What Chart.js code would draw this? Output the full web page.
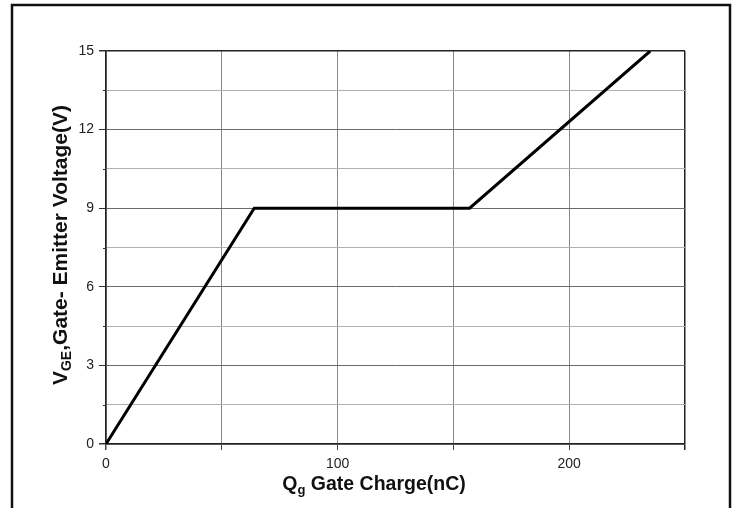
<!DOCTYPE html>
<html>
<head>
<meta charset="utf-8">
<script src="https://cdn.jsdelivr.net/npm/chart.js@4/dist/chart.umd.min.js"></script>
<style>
html,body{margin:0;padding:0;background:#fff;}
#wrap{width:736px;height:508px;position:relative;}
</style>
</head>
<body>
<div id="wrap"><canvas id="c" width="736" height="508"></canvas></div>
<script>
// Data
const gateCharge = [0, 64, 157, 235];     // nC
const gateVoltage = [0, 9, 9, 15];        // V
const xTickLabels = [0, 100, 200];
const yTickLabels = [0, 3, 6, 9, 12, 15];
const xTitleMain = ' Gate Charge(nC)';
const yTitleMain = ',Gate- Emitter Voltage(V)';

const FONT = '"Liberation Sans", Arial, sans-serif';

function richText(ctx, parts) {
  let w = 0;
  parts.forEach(p => { ctx.font = 'bold ' + p.size + 'px ' + FONT; w += ctx.measureText(p.t).width; });
  return w;
}
function drawRich(ctx, parts, x, y) {
  let cx = x;
  parts.forEach(p => {
    ctx.font = 'bold ' + p.size + 'px ' + FONT;
    ctx.fillText(p.t, cx, y + p.dy);
    cx += ctx.measureText(p.t).width;
  });
}

const decor = {
  id: 'decor',
  afterDraw(chart) {
    const ctx = chart.ctx;
    const a = chart.chartArea;
    const ys = chart.scales.y;
    ctx.save();
    // outer frame
    ctx.strokeStyle = '#111';
    ctx.lineWidth = 2.5;
    ctx.beginPath();
    ctx.moveTo(12, 520); ctx.lineTo(12, 5); ctx.lineTo(730, 5); ctx.lineTo(730, 520);
    ctx.stroke();
    // minor y ticks
    ctx.strokeStyle = '#333';
    ctx.lineWidth = 1;
    for (let v = 1.5; v < 15; v += 3) {
      const py = Math.round(ys.getPixelForValue(v)) + 0.5;
      ctx.beginPath(); ctx.moveTo(a.left - 3, py); ctx.lineTo(a.left, py); ctx.stroke();
    }
    ctx.fillStyle = '#111';
    ctx.textBaseline = 'alphabetic';
    // x title
    const xParts = [{t:'Q', size:19.5, dy:0}, {t:'g', size:13, dy:4}, {t:xTitleMain, size:19.5, dy:0}];
    const xw = richText(ctx, xParts);
    drawRich(ctx, xParts, 374 - xw / 2, 490);
    // y title
    const yParts = [{t:'V', size:21, dy:0}, {t:'GE', size:14, dy:4}, {t:yTitleMain, size:21, dy:0}];
    const yw = richText(ctx, yParts);
    ctx.translate(67, 245);
    ctx.rotate(-Math.PI / 2);
    drawRich(ctx, yParts, -yw / 2, 0);
    ctx.restore();
  }
};

new Chart(document.getElementById('c'), {
  type: 'line',
  data: {
    datasets: [{
      data: gateCharge.map((x, i) => ({x: x, y: gateVoltage[i]})),
      borderColor: '#000',
      borderWidth: 3,
      pointRadius: 0,
      tension: 0,
      fill: false
    }]
  },
  options: {
    responsive: false,
    animation: false,
    events: [],
    layout: { padding: { left: 0, top: 51, right: 51, bottom: 0 } },
    plugins: { legend: { display: false }, tooltip: { enabled: false } },
    scales: {
      x: {
        type: 'linear', min: 0, max: 250,
        afterFit(s) { s.height = 64; },
        border: { display: true, color: '#222', width: 1.5 },
        grid: {
          color: c => (c.tick.value === 0 || c.tick.value === 250) ? '#222' : '#8a8a8a',
          lineWidth: c => (c.tick.value === 0 || c.tick.value === 250) ? 1.5 : 1,
          tickColor: c => c.tick.value === 250 ? '#222' : '#444',
          tickLength: 6,
          drawTicks: true
        },
        ticks: {
          stepSize: 50,
          padding: 6,
          color: '#222',
          font: { family: FONT, size: 14 },
          maxRotation: 0,
          autoSkip: false,
          callback: v => xTickLabels.includes(v) ? String(v) : ''
        }
      },
      y: {
        type: 'linear', min: 0, max: 15,
        afterFit(s) { s.width = 106; },
        border: { display: true, color: '#222', width: 1.5 },
        grid: {
          color: c => (c.tick.value === 0 || c.tick.value === 15) ? '#222' : (yTickLabels.includes(c.tick.value) ? '#6a6a6a' : '#b0b0b0'),
          lineWidth: c => (c.tick.value === 0 || c.tick.value === 15) ? 1.5 : 1,
          tickColor: c => yTickLabels.includes(c.tick.value) ? '#333' : 'rgba(0,0,0,0)',
          tickLength: 7,
          drawTicks: true
        },
        ticks: {
          stepSize: 1.5,
          padding: 5,
          color: '#222',
          font: { family: FONT, size: 14 },
          autoSkip: false,
          callback: v => yTickLabels.includes(v) ? String(v) : ''
        }
      }
    }
  },
  plugins: [decor]
});
</script>
</body>
</html>
